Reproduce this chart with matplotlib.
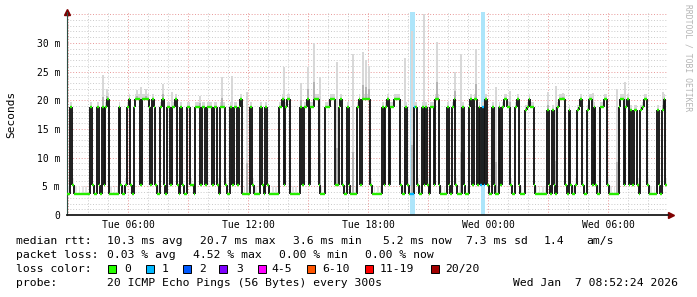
import matplotlib

matplotlib.use("Agg")
import matplotlib.pyplot as plt
from matplotlib.patches import Rectangle
import numpy as np

W, H = 697, 297
MONO = "DejaVu Sans Mono"

# ── data ──────────────────────────────────────────────────────────────────
# median rtt, one letter per 5 min step, first step at Tue 02:57
LEVELS = {"a": 3.7, "b": 5.2, "c": 18.3, "d": 18.9, "e": 20.3}
median_codes = (
    "aadbaaaaaaaaaadbaadbadbdeaaaaaadbaabdebadeeebeeeedb"
    "edbaadebaddbddebadbaaddbbadddbddbdddbddbadddbaadbddbde"
    "aaaaadbaaaadbadbaaaaaaddebdeeaaaaaadbddebddeeebaaadd"
    "deeebbdebaadbaaaadebeeeeebaaaaaadbdebddeeeebaadbaaadd"
    "baadbdbaddbeebaaaadbadebaaadbaadebeebdbdbebaadbaadbde"
    "eddbaadebaaacdeddbaaaaaaacbacbadeeeebacbaabcdebaaceeb"
    "dbaaddeebaaaaaadeebdebcbccbacdeebaaaaacbaceb"
)
start_hour = 2.95          # hours after Tue 00:00
step_hours = 5 / 60

# grey smoke spikes: time (hours after Tue 00:00) and top of the smoke (ms)
smoke_hours = [4.75, 4.95, 6.45, 6.65, 6.9, 7.75, 8.2, 9.6, 10.7, 11.2, 11.95,
               13.8, 14.65, 15.0, 15.3, 15.6, 16.45, 17.25, 17.75, 17.9, 18.05,
               19.85, 20.2, 20.8, 21.45, 22.35, 22.65, 23.4, 24.4, 25.1, 27.0,
               27.4, 27.75, 29.25, 30.45, 30.85, 32.75]
smoke_tops = [24.4, 22.0, 21.8, 22.3, 22.0, 22.8, 21.5, 20.8, 24.0, 24.2, 21.5,
              25.8, 23.0, 25.8, 30.0, 24.0, 26.7, 28.0, 28.4, 27.0, 26.0,
              27.4, 32.0, 35.0, 30.2, 25.0, 28.0, 29.0, 22.3, 21.7, 21.5,
              22.5, 21.3, 21.2, 22.0, 23.2, 21.5]

# packet loss periods (hours)
loss_start = [20.1, 23.65]
loss_end = [20.35, 23.85]

xtick_hours = [6, 12, 18, 24, 30]
xtick_labels = ["Tue 06:00", "Tue 12:00", "Tue 18:00", "Wed 00:00", "Wed 06:00"]
ytick_ms = [0, 5, 10, 15, 20, 25, 30]
ytick_labels = ["0", "5 m", "10 m", "15 m", "20 m", "25 m", "30 m"]

rtt_stats = ["10.3 ms avg", "20.7 ms max", "3.6 ms min", "5.2 ms now", "7.3 ms sd", "1.4", "am/s"]
loss_stats = ["0.03 % avg", "4.52 % max", "0.00 % min", "0.00 % now"]
loss_names = ["0", "1", "2", "3", "4-5", "6-10", "11-19", "20/20"]
loss_colors = ["#26ff00", "#00b8ff", "#0059ff", "#7e00ff", "#ff00ff", "#ff5500", "#ff0000", "#a10000"]
probe_text = "20 ICMP Echo Pings (56 Bytes) every 300s"
stamp = "Wed Jan  7 08:52:24 2026"


def fx(px):
    return px / W


def fy(py):
    return 1 - py / H


fig = plt.figure(figsize=(W / 100, H / 100), dpi=100)
fig.patch.set_facecolor("white")
ax = fig.add_axes([fx(67), fy(215), (668 - 67) / W, (215 - 12) / H])
ax.set_xlim(2.95, 33.0)
ax.set_ylim(0, 35.4)

# grid, dotted like rrdtool
for v in range(1, 36):
    major = v % 5 == 0
    ax.axhline(v, color="#e58a8a" if major else "#c4c4c4", lw=0.6,
               ls=(0, (1.2, 2.2)), zorder=0)
for h in range(3, 34):
    major = h % 3 == 0
    ax.axvline(h, color="#e58a8a" if major else "#c4c4c4", lw=0.6,
               ls=(0, (1.2, 2.2)), zorder=0)

for s, e in zip(loss_start, loss_end):
    ax.axvspan(s, e, color="#ade5fa", lw=0, zorder=1)

vals = np.array([LEVELS[c] for c in median_codes])
n = len(vals)
edges = start_hour + step_hours * np.arange(n + 1)

# smoke close to the median
low = vals < 10
ax.bar(edges[:-1][low][::2], 1.3, bottom=vals[low][::2], width=step_hours, align="edge",
       color="#e4e4e4", lw=0, zorder=2)
ax.bar(edges[:-1][~low], 0.8, bottom=vals[~low], width=step_hours, align="edge",
       color="#d8d8d8", lw=0, zorder=2)

# tall smoke spikes
idx = np.clip(((np.array(smoke_hours) - start_hour) / step_hours).astype(int), 0, n - 1)
base = vals[idx]
tops = np.array(smoke_tops)
ax.bar(smoke_hours, tops - base, bottom=base, width=0.1, color="#d8d8d8", lw=0, zorder=2)
ax.bar(smoke_hours, (tops - base) * 0.3, bottom=base, width=0.1, color="#b4b4b4", lw=0, zorder=2)

# median: black transitions, green plateaus
chg = vals[1:] != vals[:-1]
ax.vlines(edges[1:-1][chg], vals[:-1][chg], vals[1:][chg], color="#141414", lw=1.35, zorder=3)
mid = (edges[:-1] + edges[1:]) / 2
in_loss = np.zeros(n, bool)
for s, e in zip(loss_start, loss_end):
    in_loss |= (mid >= s) & (mid <= e)
cols = np.where(in_loss, "#00b8ff", "#26ee00")
ax.hlines(vals, edges[:-1], edges[1:], colors=list(cols), lw=1.7, zorder=4)

# axes look
for side in ["top", "right"]:
    ax.spines[side].set_visible(False)
ax.spines["left"].set_color("#2c4d43")
ax.spines["left"].set_linewidth(0.8)
ax.spines["bottom"].set_color("#1a1a1a")
ax.spines["bottom"].set_linewidth(1.3)
ax.plot([0], [1.0], marker="^", color="#7f0000", ms=4.5, transform=ax.transAxes, clip_on=False)
ax.plot([1.005], [0], marker=">", color="#7f0000", ms=4.5, transform=ax.transAxes, clip_on=False)

ax.set_xticks(xtick_hours, xtick_labels, family=MONO, fontsize=7)
ax.set_yticks(ytick_ms, ytick_labels, family=MONO, fontsize=7)
ax.tick_params(axis="x", length=0, pad=3.5)
ax.tick_params(axis="y", length=0, pad=5)

fig.text(fx(11), fy(114), "Seconds", rotation=90, ha="center", va="center",
         fontsize=8, family=MONO)
fig.text(fx(688), fy(4), "RRDTOOL / TOBI OETIKER", rotation=270, ha="center", va="top",
         fontsize=5.8, family=MONO, color="#b4b4b4")

# legend block
FS = 8.2
row_y = [241, 255, 269, 283]
fig.text(fx(16), fy(row_y[0]), "median rtt:", family=MONO, fontsize=FS, va="center")
for x, s in zip([107, 200, 293, 383, 466, 544, 586], rtt_stats):
    fig.text(fx(x), fy(row_y[0]), s, family=MONO, fontsize=FS, va="center")
fig.text(fx(16), fy(row_y[1]), "packet loss:", family=MONO, fontsize=FS, va="center")
for x, s in zip([107, 193, 279, 365], loss_stats):
    fig.text(fx(x), fy(row_y[1]), s, family=MONO, fontsize=FS, va="center")
fig.text(fx(16), fy(row_y[2]), "loss color:", family=MONO, fontsize=FS, va="center")
box_x = [108, 146, 183, 219, 258, 307, 365, 431]
lab_x = [124, 162, 199, 236, 271, 322, 380, 445]
for bx, lx, name, c in zip(box_x, lab_x, loss_names, loss_colors):
    fig.patches.append(Rectangle((fx(bx), fy(273)), 8 / W, 8 / H, transform=fig.transFigure,
                                 facecolor=c, edgecolor="black", lw=0.7))
    fig.text(fx(lx), fy(row_y[2]), name, family=MONO, fontsize=FS, va="center")
fig.text(fx(16), fy(row_y[3]), "probe:", family=MONO, fontsize=FS, va="center")
fig.text(fx(107), fy(row_y[3]), probe_text, family=MONO, fontsize=FS, va="center")
fig.text(fx(513), fy(row_y[3]), stamp, family=MONO, fontsize=FS, va="center")

fig.savefig("out.png", dpi=100)
